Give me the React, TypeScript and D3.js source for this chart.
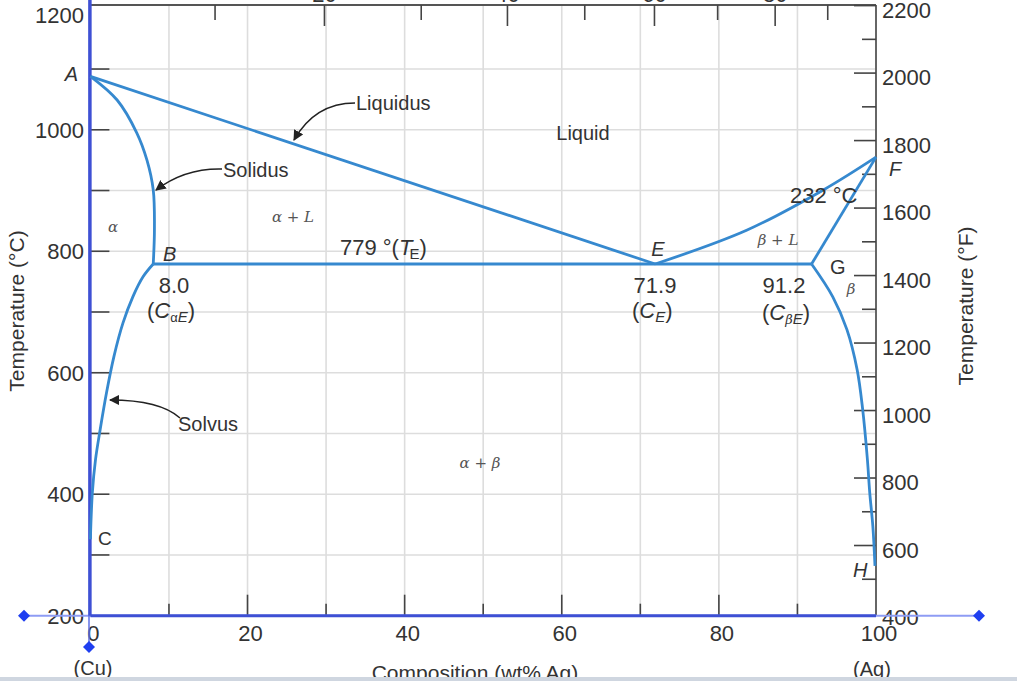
import React from "react";
import * as d3 from "d3";

// ---- data (wt% Ag, °C) ----
const liquidusAlpha: [number, number][] = [[0, 1088], [71.9, 779]];
const liquidusBeta: [number, number][] = [[71.9, 779], [83.6, 835], [93.3, 901], [100, 955]];
const solidusAlpha: [number, number][] = [[0, 1088], [3.4, 1049], [5.9, 995], [7.2, 950], [8.0, 901], [8.15, 835], [8.0, 779]];
const solvusAlpha: [number, number][] = [[8.0, 779], [6.7, 758], [5.4, 725], [4.15, 682], [3.0, 627], [2.05, 567], [1.25, 507], [0.65, 457], [0.25, 403], [0, 326]];
const solidusBeta: [number, number][] = [[100, 955], [91.8, 779]];
const solvusBeta: [number, number][] = [[91.8, 779], [94.5, 725], [96.3, 671], [97.6, 605], [98.3, 540], [98.9, 458], [99.2, 403], [99.6, 347], [99.87, 282]];
const eutectic: [number, number][] = [[8.0, 779], [91.8, 779]];

const xTicks = [0, 10, 20, 30, 40, 50, 60, 70, 80, 90, 100];
const xLabels = [0, 20, 40, 60, 80, 100];
const yTicks = [300, 400, 500, 600, 700, 800, 900, 1000, 1100];
const yLabels = [200, 400, 600, 800, 1000, 1200];
const fTicks = [500, 600, 700, 800, 900, 1000, 1100, 1200, 1300, 1400, 1500, 1600, 1700, 1800, 1900, 2000, 2100, 2200];
const fLabels = [400, 600, 800, 1000, 1200, 1400, 1600, 1800, 2000, 2200];
const atTicks = [10, 20, 30, 40, 50, 60, 70, 80, 90];
const atLabels = [20, 40, 60, 80];

const X0 = 90.4, X1 = 876, Y0 = 615.7, Y1 = 8.3;
const x = d3.scaleLinear().domain([0, 100]).range([X0, X1]);
const y = d3.scaleLinear().domain([200, 1200]).range([Y0, Y1]);
const yF = d3.scaleLinear().domain([392, 2192]).range([Y0, Y1]);
const atToWt = (a: number) => (100 * a * 107.87) / (a * 107.87 + (100 - a) * 63.55);

const BLUE = "#3689cf";
const AX = "#3e50d4";
const GRID = "#dddddd";
const TXT = "#333";
const SANS = "'Liberation Sans', Arial, Helvetica, sans-serif";
const SERIF = "'DejaVu Serif', 'Liberation Serif', serif";

const smooth = d3.line<[number, number]>().x(d => x(d[0])).y(d => y(d[1])).curve(d3.curveCatmullRom.alpha(0.5));
const straight = d3.line<[number, number]>().x(d => x(d[0])).y(d => y(d[1]));

function Diamond({ cx, cy }: { cx: number; cy: number }) {
  const s = 6;
  return <path d={`M${cx},${cy - s}L${cx + s},${cy}L${cx},${cy + s}L${cx - s},${cy}Z`} fill="#1f3ff0" />;
}

export default function App() {
  return (
    <svg width={1017} height={681} style={{ position: "absolute", left: 0, top: 0, background: "#fff" }}>
      <defs>
        <marker id="arr" viewBox="0 0 10 10" refX="9" refY="5" markerWidth="7" markerHeight="7" orient="auto-start-reverse">
          <path d="M0,0L10,5L0,10Z" fill="#222" />
        </marker>
      </defs>
      {/* grid */}
      {xTicks.slice(1, -1).map(t => (
        <line key={"gx" + t} x1={x(t)} x2={x(t)} y1={Y1 - 3} y2={Y0} stroke={GRID} strokeWidth={1.6} />
      ))}
      {yTicks.map(t => (
        <line key={"gy" + t} x1={X0} x2={X1} y1={y(t)} y2={y(t)} stroke={GRID} strokeWidth={1.6} />
      ))}
      {/* top border + top axis (at% Ag) */}
      <line x1={X0} x2={X1} y1={5} y2={5} stroke="#555" strokeWidth={2} />
      {atTicks.map(a => (
        <line key={"at" + a} x1={x(atToWt(a))} x2={x(atToWt(a))} y1={5} y2={a % 20 === 0 ? 26 : 20} stroke="#444" strokeWidth={1.6} />
      ))}
      {atLabels.map(a => (
        <text key={"atl" + a} x={x(atToWt(a))} y={2} textAnchor="middle" fontFamily={SANS} fontSize={22} fill={TXT}>{a}</text>
      ))}
      {/* right axis (°F) */}
      <line x1={X1} x2={X1} y1={5} y2={Y0} stroke="#666" strokeWidth={2} />
      {fTicks.map(f => (
        <line key={"ft" + f} x1={X1 - (f % 200 === 0 ? 22 : 14)} x2={X1} y1={yF(f)} y2={yF(f)} stroke="#444" strokeWidth={1.6} />
      ))}
      {fLabels.map(f => (
        <text key={"fl" + f} x={882} y={yF(f) + 12} fontFamily={SANS} fontSize={22} fill={TXT}>{f}</text>
      ))}
      {/* left ticks */}
      {yTicks.map(t => (
        <line key={"yt" + t} x1={X0} x2={X0 + 19} y1={y(t)} y2={y(t)} stroke="#444" strokeWidth={1.6} />
      ))}
      {yLabels.map(t => (
        <text key={"yl" + t} x={84} y={Math.max(y(t) + 8, 23)} textAnchor="end" fontFamily={SANS} fontSize={22} fill={TXT}>{t}</text>
      ))}
      {/* bottom ticks */}
      {xTicks.slice(1, -1).map(t => (
        <line key={"xt" + t} x1={x(t)} x2={x(t)} y1={Y0} y2={Y0 - (t % 20 === 0 ? 21 : 12)} stroke="#444" strokeWidth={1.6} />
      ))}
      {xLabels.map(t => (
        <text key={"xl" + t} x={x(t) + 3} y={641} textAnchor="middle" fontFamily={SANS} fontSize={22} fill={TXT}>{t}</text>
      ))}
      {/* selection-like axis overlays */}
      <line x1={24} x2={979} y1={Y0} y2={Y0} stroke="#8e9cf4" strokeWidth={2} />
      <line x1={89} x2={89} y1={Y0} y2={647} stroke="#5d6fe6" strokeWidth={1.5} />
      <line x1={X0} x2={X1} y1={Y0} y2={Y0} stroke={AX} strokeWidth={3} />
      <line x1={X0 - 0.5} x2={X0 - 0.5} y1={0} y2={Y0} stroke={AX} strokeWidth={3.5} />
      <Diamond cx={24} cy={Y0} />
      <Diamond cx={979} cy={Y0} />
      <Diamond cx={89} cy={647} />
      {/* phase boundaries */}
      <g fill="none" stroke={BLUE} strokeWidth={2.8} strokeLinejoin="round">
        <path d={straight(liquidusAlpha)!} />
        <path d={smooth(liquidusBeta)!} />
        <path d={smooth(solidusAlpha)!} />
        <path d={smooth(solvusAlpha)!} />
        <path d={straight(solidusBeta)!} />
        <path d={smooth(solvusBeta)!} />
        <path d={straight(eutectic)!} />
      </g>
      {/* leader arrows */}
      <g fill="none" stroke="#222" strokeWidth={1.5}>
        <path d="M355,103 Q315,103 294,140" markerEnd="url(#arr)" />
        <path d="M222,169 Q185,168 156,190" markerEnd="url(#arr)" />
        <path d="M180,418 Q160,400 110,400" markerEnd="url(#arr)" />
      </g>
      {/* labels */}
      <g fontFamily={SANS} fill={TXT} fontSize={20}>
        <text x={356} y={110}>Liquidus</text>
        <text x={583} y={140} textAnchor="middle">Liquid</text>
        <text x={223} y={177}>Solidus</text>
        <text x={178} y={431}>Solvus</text>
        <text x={340} y={255} fontSize={22}>779 °(<tspan fontStyle="italic">T</tspan><tspan fontSize={15} dx={-3} dy={4}>E</tspan><tspan dy={-4}>)</tspan></text>
        <text x={790} y={203} fontSize={22}>232 °C</text>
        <text x={78} y={81} fontStyle="italic" textAnchor="end">A</text>
        <text x={163} y={261} fontStyle="italic">B</text>
        <text x={98} y={545} fontSize={19}>C</text>
        <text x={658} y={256} fontStyle="italic" textAnchor="middle">E</text>
        <text x={889} y={176} fontStyle="italic">F</text>
        <text x={830} y={274}>G</text>
        <text x={853} y={577} fontStyle="italic">H</text>
        <text x={174} y={293} fontSize={22} textAnchor="middle">8.0</text>
        <text x={147} y={318} fontSize={22}>(<tspan fontStyle="italic">C</tspan><tspan fontSize={13} dy={4}>α</tspan><tspan fontSize={15} fontStyle="italic">E</tspan><tspan dy={-4}>)</tspan></text>
        <text x={655} y={293} fontSize={22} textAnchor="middle">71.9</text>
        <text x={632} y={318} fontSize={22}>(<tspan fontStyle="italic">C</tspan><tspan fontSize={15} fontStyle="italic" dy={4}>E</tspan><tspan dy={-4}>)</tspan></text>
        <text x={784} y={293} fontSize={22} textAnchor="middle">91.2</text>
        <text x={762} y={320} fontSize={22}>(<tspan fontStyle="italic">C</tspan><tspan fontSize={13} fontFamily={SERIF} fontStyle="italic" dy={4}>β</tspan><tspan fontSize={15} fontStyle="italic">E</tspan><tspan dy={-4}>)</tspan></text>
        <text x={93} y={675} fontSize={20} textAnchor="middle">(Cu)</text>
        <text x={872} y={676} fontSize={20} textAnchor="middle">(Ag)</text>
        <text x={475} y={680} fontSize={21} textAnchor="middle">Composition (wt% Ag)</text>
        <text transform="translate(24,311) rotate(-90)" textAnchor="middle" fontSize={21}>Temperature (°C)</text>
        <text transform="translate(973,306) rotate(-90)" textAnchor="middle" fontSize={21}>Temperature (°F)</text>
      </g>
      <g fontFamily={SERIF} fontStyle="italic" fill="#555" fontSize={15}>
        <text x={113} y={232} textAnchor="middle">α</text>
        <text x={293} y={222} textAnchor="middle">α + L</text>
        <text x={778} y={245} textAnchor="middle">β + L</text>
        <text x={851} y={294} textAnchor="middle">β</text>
        <text x={480} y={468} textAnchor="middle">α + β</text>
      </g>
      <rect x={0} y={677} width={1017} height={4} fill="#cfd6e0" />
    </svg>
  );
}
